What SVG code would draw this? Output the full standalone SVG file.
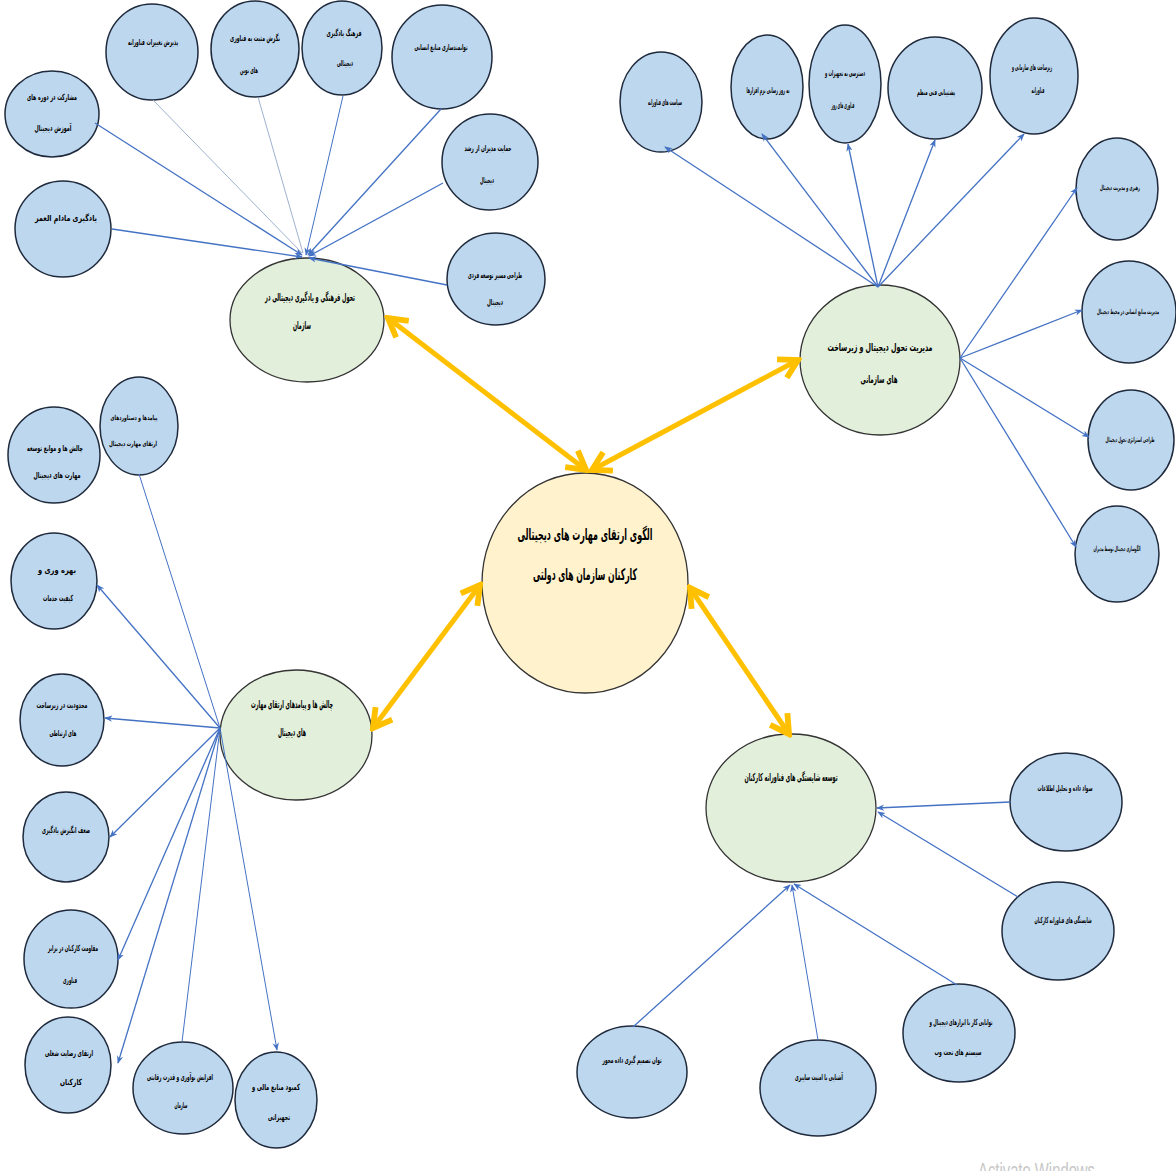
<svg xmlns="http://www.w3.org/2000/svg" width="1176" height="1171" viewBox="0 0 1176 1171">
<style>
.bg{fill:#ffffff}
.leaf{fill:#BDD7EE;stroke:#1F2A3C;stroke-width:1.5}
.hub{fill:#E2EFDA;stroke:#333;stroke-width:1.3}
.ctr{fill:#FFF2CC;stroke:#333;stroke-width:1.3}
.t{font-family:"DejaVu Sans Condensed","DejaVu Sans",sans-serif;font-weight:bold;fill:#000;text-anchor:middle;font-size:8.5px}
.ts{font-size:7px}
.th{font-size:11px}
.tc{font-size:16px}
.ln{stroke:#4472C4;stroke-width:1.3;fill:none}
.lt{stroke:#9FB1CF;stroke-width:1;fill:none}
.gold{stroke:#FFC000;stroke-width:5;fill:none}
.wm{font-family:"Liberation Sans",sans-serif;font-size:22px;fill:#c8c8c8}
</style>
<defs>
<marker id="ab" viewBox="0 0 10 10" refX="9" refY="5" markerWidth="8" markerHeight="8" markerUnits="userSpaceOnUse" orient="auto"><path d="M0,1 L10,5 L0,9 L3,5 z" fill="#4472C4"/></marker>
<marker id="ag" viewBox="0 0 20 20" refX="17" refY="10" markerWidth="26" markerHeight="26" markerUnits="userSpaceOnUse" orient="auto-start-reverse"><path d="M3,2 L17,10 L3,18" fill="none" stroke="#FFC000" stroke-width="4.5"/></marker>
</defs>
<rect class="bg" x="0" y="0" width="1176" height="1171"/>

<g id="n-center"><ellipse class="ctr" cx="585" cy="583" rx="103" ry="110"/>
<text class="t tc" x="585" y="540" textLength="135" lengthAdjust="spacingAndGlyphs">الگوی ارتقای مهارت های دیجیتالی</text>
<text class="t tc" x="585" y="580" textLength="104" lengthAdjust="spacingAndGlyphs">کارکنان سازمان های دولتی</text></g>

<g id="hub-culture"><ellipse class="hub" cx="307" cy="320" rx="77" ry="62"/>
<text class="t th" x="310" y="301" textLength="90" lengthAdjust="spacingAndGlyphs">تحول فرهنگی و یادگیری دیجیتالی در</text>
<text class="t th" x="302" y="329" textLength="18" lengthAdjust="spacingAndGlyphs">سازمان</text></g>

<g id="hub-management"><ellipse class="hub" cx="880" cy="360" rx="80" ry="75"/>
<text class="t th" x="880" y="351" textLength="105" lengthAdjust="spacingAndGlyphs">مدیریت تحول دیجیتال و زیرساخت</text>
<text class="t th" x="879" y="383" textLength="37" lengthAdjust="spacingAndGlyphs">های سازمانی</text></g>

<g id="hub-challenges"><ellipse class="hub" cx="296" cy="735" rx="76" ry="65"/>
<text class="t th" x="292" y="708" textLength="82" lengthAdjust="spacingAndGlyphs">چالش ها و پیامدهای ارتقای مهارت</text>
<text class="t th" x="292" y="736" textLength="28" lengthAdjust="spacingAndGlyphs">های دیجیتال</text></g>

<g id="hub-competency"><ellipse class="hub" cx="791" cy="808" rx="85" ry="74"/>
<text class="t th" x="791" y="781" textLength="93" lengthAdjust="spacingAndGlyphs">توسعه شایستگی های فناورانه کارکنان</text></g>

<g id="n1"><ellipse class="leaf" cx="52" cy="114" rx="47" ry="43"/>
<text class="t" x="52" y="100" textLength="50" lengthAdjust="spacingAndGlyphs">مشارکت در دوره های</text>
<text class="t" x="53" y="131" textLength="37" lengthAdjust="spacingAndGlyphs">آموزش دیجیتال</text></g>
<g id="n2"><ellipse class="leaf" cx="63" cy="229" rx="48" ry="48"/>
<text class="t" x="66" y="221" textLength="62" lengthAdjust="spacingAndGlyphs">یادگیری مادام العمر</text></g>
<g id="n3"><ellipse class="leaf" cx="152" cy="52" rx="46" ry="48"/>
<text class="t" x="153" y="45" textLength="50" lengthAdjust="spacingAndGlyphs">پذیرش تغییرات فناورانه</text></g>
<g id="n4"><ellipse class="leaf" cx="255" cy="49" rx="44" ry="48"/>
<text class="t" x="255" y="41" textLength="50" lengthAdjust="spacingAndGlyphs">نگرش مثبت به فناوری</text>
<text class="t" x="249" y="73" textLength="18" lengthAdjust="spacingAndGlyphs">های نوین</text></g>
<g id="n5"><ellipse class="leaf" cx="342" cy="48" rx="40" ry="47"/>
<text class="t" x="344" y="36" textLength="35" lengthAdjust="spacingAndGlyphs">فرهنگ یادگیری</text>
<text class="t" x="345" y="66" textLength="16" lengthAdjust="spacingAndGlyphs">دیجیتالی</text></g>
<g id="n6"><ellipse class="leaf" cx="442" cy="57" rx="50" ry="52"/>
<text class="t" x="441" y="50" textLength="53" lengthAdjust="spacingAndGlyphs">توانمندسازی منابع انسانی</text></g>
<g id="n7"><ellipse class="leaf" cx="490" cy="162" rx="48" ry="48"/>
<text class="t" x="488" y="151" textLength="47" lengthAdjust="spacingAndGlyphs">حمایت مدیران از رشد</text>
<text class="t" x="487" y="183" textLength="14" lengthAdjust="spacingAndGlyphs">دیجیتال</text></g>
<g id="n8"><ellipse class="leaf" cx="496" cy="279" rx="49" ry="46"/>
<text class="t" x="495" y="278" textLength="54" lengthAdjust="spacingAndGlyphs">طراحی مسیر توسعه فردی</text>
<text class="t" x="495" y="305" textLength="16" lengthAdjust="spacingAndGlyphs">دیجیتال</text></g>

<g id="m1"><ellipse class="leaf" cx="661" cy="102" rx="41" ry="50"/>
<text class="t" x="665" y="105" textLength="34" lengthAdjust="spacingAndGlyphs">سیاست های فناورانه</text></g>
<g id="m2"><ellipse class="leaf" cx="767" cy="87" rx="36" ry="52"/>
<text class="t" x="768" y="93" textLength="43" lengthAdjust="spacingAndGlyphs">به روز رسانی نرم افزارها</text></g>
<g id="m3"><ellipse class="leaf" cx="845" cy="84" rx="36" ry="59"/>
<text class="t" x="845" y="76" textLength="40" lengthAdjust="spacingAndGlyphs">دسترسی به تجهیزات و</text>
<text class="t" x="843" y="108" textLength="23" lengthAdjust="spacingAndGlyphs">فناوری های روز</text></g>
<g id="m4"><ellipse class="leaf" cx="935" cy="88" rx="47" ry="51"/>
<text class="t" x="936" y="95" textLength="38" lengthAdjust="spacingAndGlyphs">پشتیبانی فنی منظم</text></g>
<g id="m5"><ellipse class="leaf" cx="1034" cy="76" rx="44" ry="58"/>
<text class="t" x="1032" y="70" textLength="40" lengthAdjust="spacingAndGlyphs">زیرساخت های سازمانی و</text>
<text class="t" x="1038" y="93" textLength="13" lengthAdjust="spacingAndGlyphs">فناورانه</text></g>

<g id="r1"><ellipse class="leaf" cx="1117" cy="189" rx="41" ry="51"/>
<text class="t ts" x="1120" y="190" textLength="40" lengthAdjust="spacingAndGlyphs">رهبری و مدیریت دیجیتال</text></g>
<g id="r2"><ellipse class="leaf" cx="1129" cy="312" rx="47" ry="51"/>
<text class="t ts" x="1128" y="314" textLength="62" lengthAdjust="spacingAndGlyphs">مدیریت منابع انسانی در محیط دیجیتال</text></g>
<g id="r3"><ellipse class="leaf" cx="1131" cy="440" rx="43" ry="50"/>
<text class="t ts" x="1130" y="442" textLength="49" lengthAdjust="spacingAndGlyphs">طراحی استراتژی تحول دیجیتال</text></g>
<g id="r4"><ellipse class="leaf" cx="1117" cy="554" rx="42" ry="48"/>
<text class="t ts" x="1117" y="551" textLength="47" lengthAdjust="spacingAndGlyphs">الگوسازی دیجیتال توسط مدیران</text></g>

<g id="l1"><ellipse class="leaf" cx="139" cy="426" rx="39" ry="49"/>
<text class="t ts" x="134" y="420" textLength="47" lengthAdjust="spacingAndGlyphs">پیامدها و دستاوردهای</text>
<text class="t ts" x="133" y="446" textLength="48" lengthAdjust="spacingAndGlyphs">ارتقای مهارت دیجیتال</text></g>
<g id="l2"><ellipse class="leaf" cx="54" cy="455" rx="46" ry="48"/>
<text class="t" x="55" y="451" textLength="56" lengthAdjust="spacingAndGlyphs">چالش ها و موانع توسعه</text>
<text class="t" x="57" y="478" textLength="47" lengthAdjust="spacingAndGlyphs">مهارت های دیجیتال</text></g>
<g id="l3"><ellipse class="leaf" cx="54" cy="581" rx="43" ry="48"/>
<text class="t" x="57" y="573" textLength="38" lengthAdjust="spacingAndGlyphs">بهره وری و</text>
<text class="t" x="58" y="601" textLength="30" lengthAdjust="spacingAndGlyphs">کیفیت خدمات</text></g>
<g id="l4"><ellipse class="leaf" cx="62" cy="720" rx="42" ry="46"/>
<text class="t" x="62" y="708" textLength="51" lengthAdjust="spacingAndGlyphs">محدودیت در زیرساخت</text>
<text class="t" x="63" y="736" textLength="27" lengthAdjust="spacingAndGlyphs">های ارتباطی</text></g>
<g id="l5"><ellipse class="leaf" cx="66" cy="837" rx="43" ry="45"/>
<text class="t" x="66" y="833" textLength="48" lengthAdjust="spacingAndGlyphs">ضعف انگیزش یادگیری</text></g>
<g id="l6"><ellipse class="leaf" cx="71" cy="959" rx="47" ry="49"/>
<text class="t" x="73" y="951" textLength="50" lengthAdjust="spacingAndGlyphs">مقاومت کارکنان در برابر</text>
<text class="t" x="70" y="983" textLength="14" lengthAdjust="spacingAndGlyphs">فناوری</text></g>
<g id="l7"><ellipse class="leaf" cx="68" cy="1065" rx="43" ry="48"/>
<text class="t" x="69" y="1056" textLength="48" lengthAdjust="spacingAndGlyphs">ارتقای رضایت شغلی</text>
<text class="t" x="71" y="1085" textLength="22" lengthAdjust="spacingAndGlyphs">کارکنان</text></g>
<g id="l8"><ellipse class="leaf" cx="183" cy="1088" rx="50" ry="46"/>
<text class="t" x="180" y="1080" textLength="66" lengthAdjust="spacingAndGlyphs">افزایش نوآوری و قدرت رقابتی</text>
<text class="t" x="181" y="1108" textLength="13" lengthAdjust="spacingAndGlyphs">سازمان</text></g>
<g id="l9"><ellipse class="leaf" cx="276" cy="1100" rx="41" ry="48"/>
<text class="t" x="276" y="1090" textLength="48" lengthAdjust="spacingAndGlyphs">کمبود منابع مالی و</text>
<text class="t" x="279" y="1120" textLength="22" lengthAdjust="spacingAndGlyphs">تجهیزاتی</text></g>

<g id="b1"><ellipse class="leaf" cx="1066" cy="802" rx="56" ry="49"/>
<text class="t" x="1065" y="791" textLength="55" lengthAdjust="spacingAndGlyphs">سواد داده و تحلیل اطلاعات</text></g>
<g id="b2"><ellipse class="leaf" cx="1058" cy="931" rx="56" ry="49"/>
<text class="t" x="1063" y="923" textLength="57" lengthAdjust="spacingAndGlyphs">شایستگی های فناورانه کارکنان</text></g>
<g id="b3"><ellipse class="leaf" cx="959" cy="1033" rx="56" ry="49"/>
<text class="t" x="961" y="1025" textLength="63" lengthAdjust="spacingAndGlyphs">توانایی کار با ابزارهای دیجیتال و</text>
<text class="t" x="958" y="1055" textLength="47" lengthAdjust="spacingAndGlyphs">سیستم های تحت وب</text></g>
<g id="b4"><ellipse class="leaf" cx="818" cy="1088" rx="58" ry="48"/>
<text class="t" x="819" y="1080" textLength="48" lengthAdjust="spacingAndGlyphs">آشنایی با امنیت سایبری</text></g>
<g id="b5"><ellipse class="leaf" cx="632" cy="1072" rx="55" ry="46"/>
<text class="t" x="632" y="1063" textLength="59" lengthAdjust="spacingAndGlyphs">توان تصمیم گیری داده محور</text></g>

<g id="connectors">
<line class="ln" x1="95" y1="123" x2="302" y2="255" marker-end="url(#ab)"/>
<line class="ln" x1="112" y1="229" x2="302" y2="257" marker-end="url(#ab)"/>
<line class="lt" x1="153" y1="100" x2="302" y2="253"/>
<line class="lt" x1="258" y1="97" x2="303" y2="253"/>
<line class="ln" x1="343" y1="96" x2="306" y2="255" marker-end="url(#ab)" style="stroke-width:1"/>
<line class="ln" x1="441" y1="109" x2="308" y2="255" marker-end="url(#ab)"/>
<line class="ln" x1="443" y1="183" x2="309" y2="256" marker-end="url(#ab)"/>
<line class="ln" x1="447" y1="285" x2="309" y2="258" marker-end="url(#ab)"/>

<line class="ln" x1="878" y1="287" x2="665" y2="147" marker-end="url(#ab)"/>
<line class="ln" x1="878" y1="287" x2="762" y2="134" marker-end="url(#ab)"/>
<line class="ln" x1="878" y1="287" x2="848" y2="144" marker-end="url(#ab)"/>
<line class="ln" x1="878" y1="287" x2="935" y2="140" marker-end="url(#ab)"/>
<line class="ln" x1="878" y1="287" x2="1024" y2="134" marker-end="url(#ab)"/>

<line class="ln" x1="960" y1="358" x2="1077" y2="188" marker-end="url(#ab)"/>
<line class="ln" x1="960" y1="358" x2="1082" y2="310" marker-end="url(#ab)"/>
<line class="ln" x1="960" y1="358" x2="1089" y2="437" marker-end="url(#ab)"/>
<line class="ln" x1="960" y1="358" x2="1076" y2="547" marker-end="url(#ab)"/>

<line class="ln" x1="220" y1="728" x2="139" y2="474" style="stroke-width:1"/>
<line class="ln" x1="220" y1="728" x2="97" y2="585" marker-end="url(#ab)"/>
<line class="ln" x1="220" y1="728" x2="105" y2="718" marker-end="url(#ab)"/>
<line class="ln" x1="220" y1="728" x2="110" y2="837" marker-end="url(#ab)"/>
<line class="ln" x1="220" y1="728" x2="118" y2="960" marker-end="url(#ab)"/>
<line class="ln" x1="220" y1="728" x2="118" y2="1063" marker-end="url(#ab)"/>
<line class="ln" x1="220" y1="728" x2="182" y2="1042" style="stroke-width:1"/>
<line class="ln" x1="220" y1="728" x2="277" y2="1050" marker-end="url(#ab)" style="stroke-width:1"/>

<line class="ln" x1="1010" y1="802" x2="877" y2="808" marker-end="url(#ab)"/>
<line class="ln" x1="1018" y1="897" x2="878" y2="812" marker-end="url(#ab)"/>
<line class="ln" x1="957" y1="985" x2="794" y2="884" marker-end="url(#ab)"/>
<line class="ln" x1="818" y1="1040" x2="792" y2="885" marker-end="url(#ab)" style="stroke-width:1"/>
<line class="ln" x1="633" y1="1027" x2="790" y2="885" marker-end="url(#ab)"/>

<line class="gold" x1="388" y1="318" x2="586" y2="470" marker-start="url(#ag)" marker-end="url(#ag)"/>
<line class="gold" x1="592" y1="470" x2="798" y2="360" marker-start="url(#ag)" marker-end="url(#ag)"/>
<line class="gold" x1="480" y1="585" x2="373" y2="728" marker-start="url(#ag)" marker-end="url(#ag)"/>
<line class="gold" x1="690" y1="588" x2="789" y2="734" marker-start="url(#ag)" marker-end="url(#ag)"/>
</g>

<text class="wm" x="978" y="1178" textLength="117" lengthAdjust="spacingAndGlyphs">Activate Windows</text>
</svg>
